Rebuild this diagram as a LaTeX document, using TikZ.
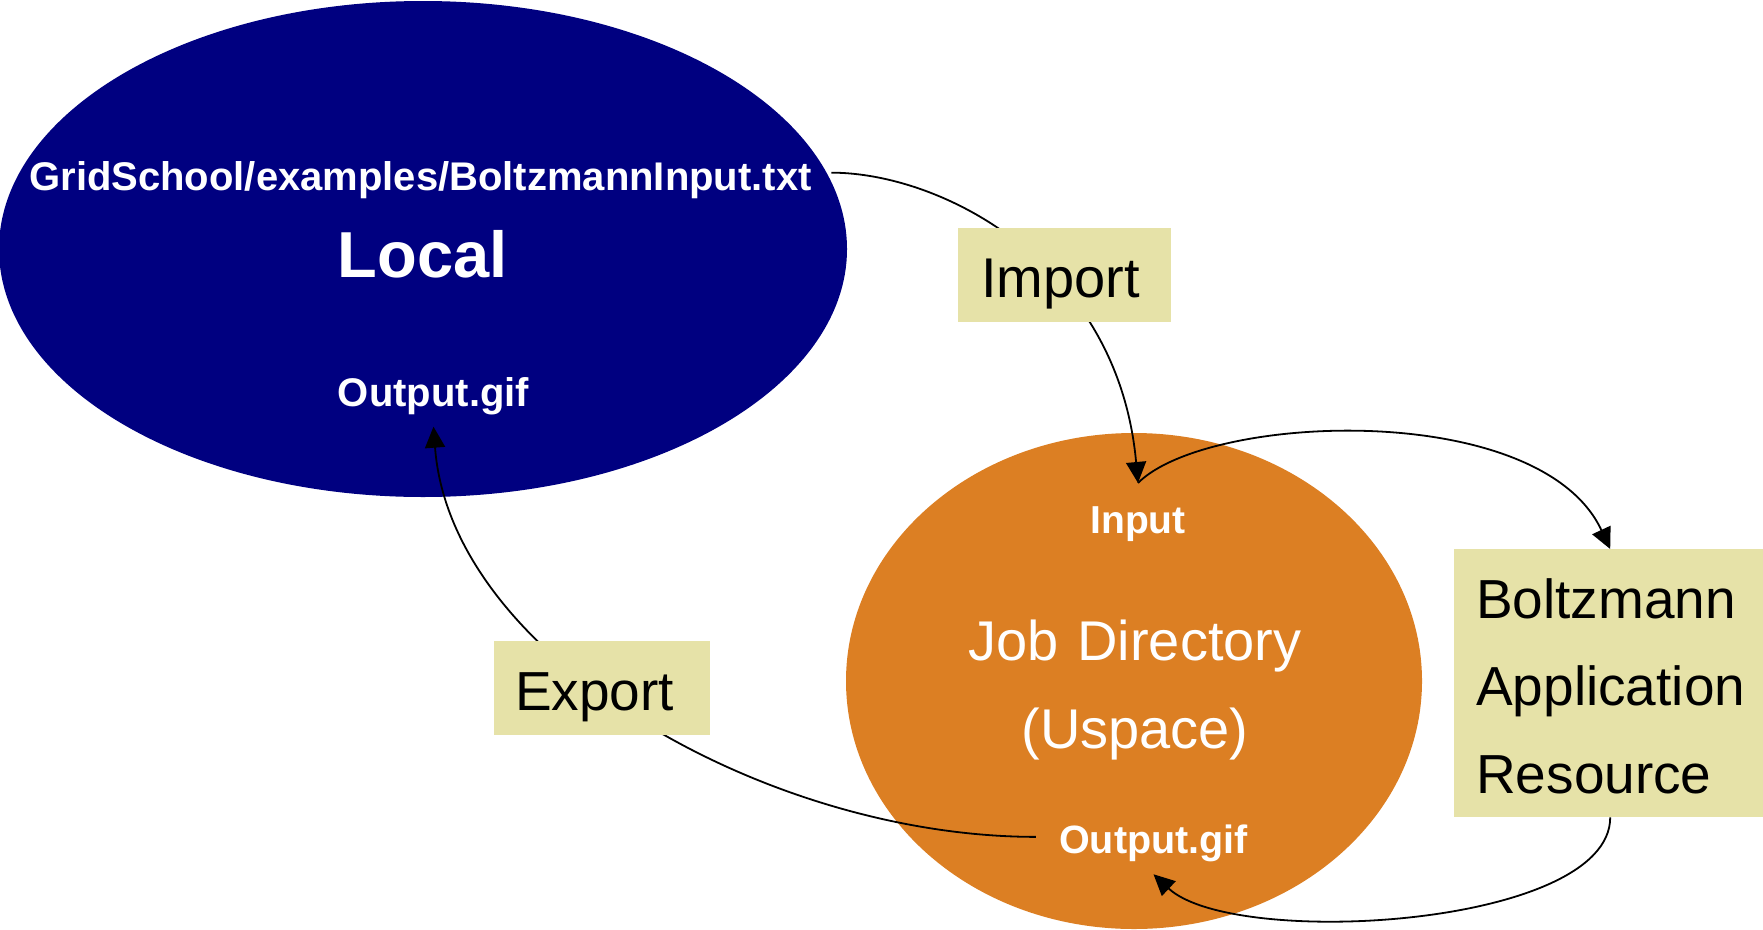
\documentclass[tikz,border=0pt]{standalone}
\usepackage{fontspec}
\setmainfont{Liberation Sans}
\usetikzlibrary{shapes.geometric,arrows.meta}
\definecolor{localblue}{RGB}{0,0,128}
\definecolor{joborange}{RGB}{220,127,35}
\definecolor{tagfill}{RGB}{230,226,168}
\pgfdeclarelayer{back}
\pgfdeclarelayer{wires}
\pgfsetlayers{back,wires,main}

\begin{document}
\begin{tikzpicture}[x=1pt,y=-1pt,
  blob/.style={ellipse, inner sep=0pt, draw=none},
  whitebold/.style={text=white, inner sep=0pt, anchor=base,
    font=\bfseries\fontsize{#1}{#1}\selectfont},
  tag/.style={fill=tagfill, anchor=north west, inner ysep=0pt, align=left,
    font=\fontsize{#1}{87.5}\selectfont},
  flow/.style={line width=1.8pt, -{Triangle[length=21pt,width=20pt]}}
]
\useasboundingbox (0,0) rectangle (1763,929);

% the two storage areas
\begin{pgfonlayer}{back}
  \node[blob, fill=localblue, minimum width=848pt, minimum height=496pt] (local) at (423,249) {};
  \node[blob, fill=joborange, minimum width=576pt, minimum height=496pt] (job) at (1134,681) {};
\end{pgfonlayer}

% file names and area titles
\node[whitebold=40] (gs) at (420.5,190) {GridSchool/examples/BoltzmannInput.txt};
\node[whitebold=65] (loc) at (422.5,277) {Local};
\node[whitebold=40] (lout) at (433.5,406) {Output.gif};
\node[whitebold=39] (jin) at (1138,533) {Input};
\node[text=white, inner sep=0pt, anchor=base, text width=400pt, align=center,
      font=\fontsize{56}{88}\selectfont] (jdir) at (1135,660) {Job Directory\\(Uspace)};
\node[whitebold=39.5] (jout) at (1153.5,853) {Output.gif};

% transfer steps
\node[tag=56, inner xsep=23.3pt, text width=166.7pt, text height=69.7pt, text depth=24.3pt]
  (imp) at (957.7,228) {Import};
\node[tag=55, inner xsep=21pt, text width=174pt, text height=69pt, text depth=25pt]
  (exp) at (494,641) {Export};
\node[tag=55, inner xsep=22pt, text width=280pt, text height=69pt, text depth=199pt]
  (bar) at (1454,549) {Boltzmann\\Application\\Resource};

% data flow
\begin{pgfonlayer}{wires}
  \draw[flow] ([shift={(19.5,-7)}]gs.east) .. controls +(110,0) and +(-20,-220) ..
    ([shift={(0,-23)}]jin.north);
  \draw[flow] ([shift={(0,-23)}]jin.north) .. controls +(70,-70) and +(-70,-150) ..
    ([shift={(-6,0)}]bar.north);
  \draw[flow] ([shift={(-6,0)}]bar.south) .. controls +(0,110) and +(80,75) ..
    ([shift={(0,12.7)}]jout.south);
  \draw[flow] ([shift={(-23,-6)}]jout.west) .. controls +(-270,0) and +(17,230) ..
    ([shift={(0,12)}]lout.south);
\end{pgfonlayer}
\end{tikzpicture}
\end{document}
